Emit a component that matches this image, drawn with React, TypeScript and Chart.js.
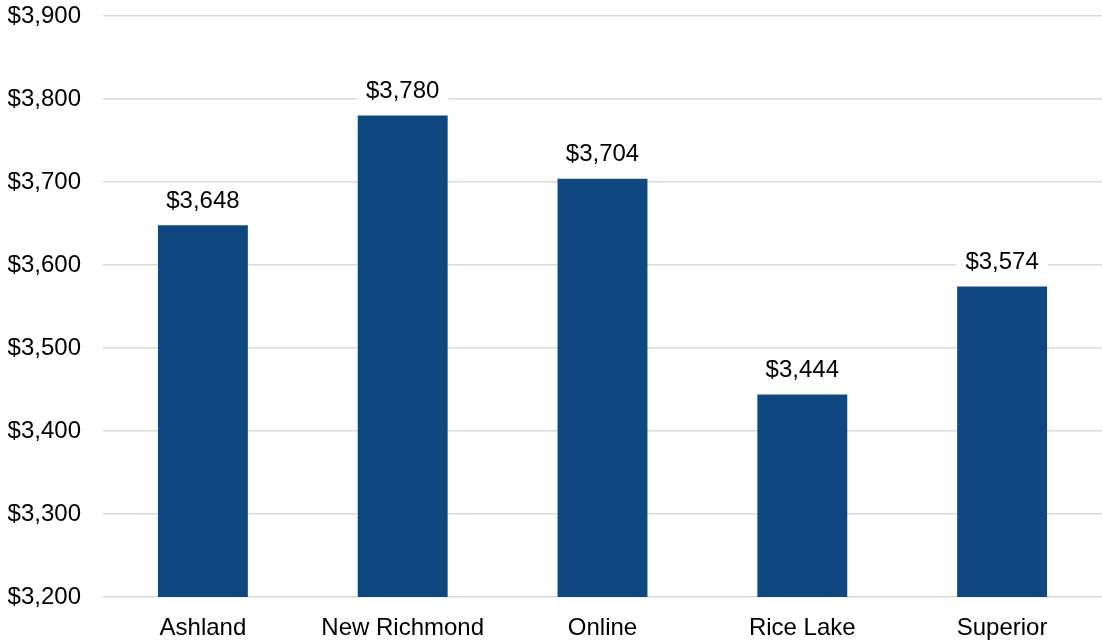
import React, { useEffect, useRef } from "react";
import { Chart, registerables } from "chart.js";

Chart.register(...registerables);

const categories = ["Ashland", "New Richmond", "Online", "Rice Lake", "Superior"];
const values = [3648, 3780, 3704, 3444, 3574];
const yMin = 3200;
const yMax = 3900;
const yStep = 100;

const FONT = "'Liberation Sans', Arial, sans-serif";
const fmt = (v: number) => "$" + v.toLocaleString("en-US");

const labelPlugin = {
  id: "barLabels",
  afterDatasetsDraw(chart: any) {
    const ctx = chart.ctx;
    const meta = chart.getDatasetMeta(0);
    ctx.save();
    ctx.font = `24px ${FONT}`;
    ctx.textAlign = "center";
    ctx.textBaseline = "middle";
    meta.data.forEach((bar: any, i: number) => {
      const text = fmt(values[i]);
      const w = ctx.measureText(text).width;
      const cy = bar.y - 25;
      ctx.fillStyle = "#ffffff";
      ctx.fillRect(bar.x - w / 2 - 9, cy - 15, w + 18, 30);
      ctx.fillStyle = "#000000";
      ctx.fillText(text, bar.x, cy + 1);
    });
    ctx.restore();
  },
};

export default function App() {
  const ref = useRef<HTMLCanvasElement>(null);
  useEffect(() => {
    document.body.style.margin = "0";
    const chart = new Chart(ref.current!, {
      type: "bar",
      data: {
        labels: categories,
        datasets: [
          {
            data: values,
            backgroundColor: "#0F4880",
            categoryPercentage: 1,
            barPercentage: 0.45,
          },
        ],
      },
      options: {
        animation: false,
        responsive: false,
        maintainAspectRatio: false,
        layout: { padding: { top: 16, right: 0, bottom: 0, left: 8 } },
        plugins: { legend: { display: false }, tooltip: { enabled: false } },
        scales: {
          x: {
            grid: { display: false },
            border: { display: false },
            ticks: { color: "#000", font: { family: FONT, size: 24 }, padding: 9 },
            afterFit: (scale: any) => {
              scale.height = 45;
            },
          },
          y: {
            min: yMin,
            max: yMax,
            ticks: {
              stepSize: yStep,
              color: "#000",
              font: { family: FONT, size: 24 },
              padding: 22,
              callback: (v: any) => fmt(Number(v)),
            },
            grid: { color: "#d9d9d9", lineWidth: 1.5, drawTicks: false },
            border: { display: false },
            afterFit: (scale: any) => {
              scale.width = 95;
              scale.paddingTop = 0;
              scale.paddingBottom = 0;
            },
          },
        },
      },
      plugins: [labelPlugin],
    });
    return () => chart.destroy();
  }, []);
  return (
    <div style={{ width: 1102, height: 642 }}>
      <canvas ref={ref} width={1102} height={642} />
    </div>
  );
}
